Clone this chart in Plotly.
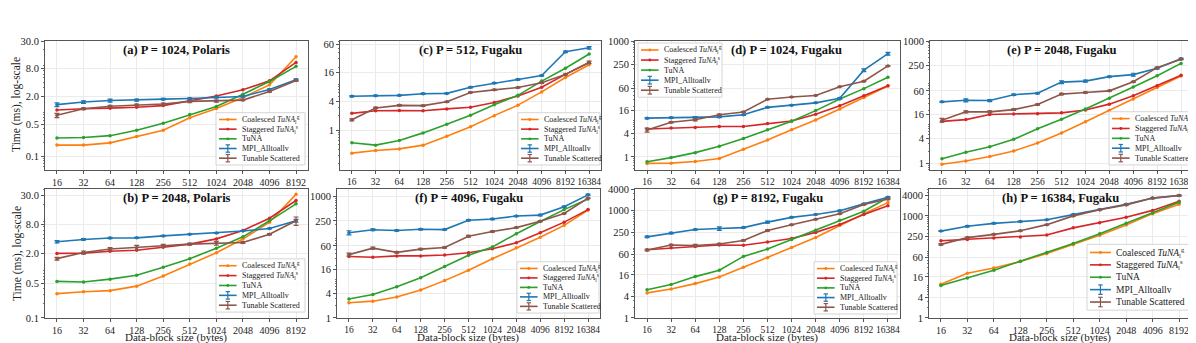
import plotly.graph_objects as go
import math

W, H = 1196, 343

sizes_10 = [16, 32, 64, 128, 256, 512, 1024, 2048, 4096, 8192]
sizes_11 = [16, 32, 64, 128, 256, 512, 1024, 2048, 4096, 8192, 16384]

series_names = [
    "Coalesced <i>TuNA</i><sub>l</sub><sup>g</sup>",
    "Staggered <i>TuNA</i><sub>l</sub><sup>s</sup>",
    "TuNA",
    "MPI_Alltoallv",
    "Tunable Scattered",
]
colors = ["#ff7f0e", "#d62728", "#2ca02c", "#1f77b4", "#8c564b"]

# (a) P = 1024, Polaris
a_coal = [0.175, 0.175, 0.196, 0.27, 0.365, 0.68, 1.08, 1.87, 3.5, 14.2]
a_stag = [1.0, 1.07, 1.1, 1.15, 1.25, 1.6, 2.02, 2.74, 4.27, 10.7]
a_tuna = [0.25, 0.256, 0.28, 0.365, 0.52, 0.8, 1.19, 2.19, 4.14, 8.8]
a_mpi = [1.31, 1.49, 1.61, 1.64, 1.72, 1.78, 1.9, 1.97, 2.78, 4.5]
a_tun = [0.77, 1.07, 1.21, 1.29, 1.35, 1.54, 1.57, 1.64, 2.53, 4.35]
a_mpi_err = [0.12, 0.1, 0.12, 0.08, 0.07, 0.06, 0.06, 0.05, 0.1, 0.2]
a_tun_err = [0.08, 0.05, 0.06, 0.05, 0.06, 0.1, 0.08, 0.05, 0.08, 0.15]

# (b) P = 2048, Polaris
b_coal = [0.31, 0.34, 0.357, 0.44, 0.71, 1.24, 2.09, 3.98, 8.7, 32]
b_stag = [2.03, 2.06, 2.25, 2.35, 2.7, 3.13, 4.0, 5.9, 10.5, 24]
b_tuna = [0.55, 0.535, 0.61, 0.73, 1.06, 1.59, 2.57, 4.4, 9.3, 20.5]
b_mpi = [3.5, 3.9, 4.17, 4.2, 4.6, 4.98, 5.28, 5.77, 6.5, 9.3]
b_tun = [1.59, 2.12, 2.5, 2.65, 2.9, 3.13, 3.27, 3.37, 4.98, 9.3]
b_mpi_err = [0.2, 0.15, 0.12, 0.1, 0.1, 0.1, 0.1, 0.1, 0.15, 0.6]
b_tun_err = [0.1, 0.15, 0.15, 0.3, 0.2, 0.15, 0.3, 0.15, 0.15, 1.8]

# (c) P = 512, Fugaku
c_coal = [0.335, 0.38, 0.41, 0.49, 0.75, 1.18, 2.0, 3.3, 6.2, 12.3, 22.7]
c_stag = [2.23, 2.52, 2.56, 2.52, 2.76, 2.98, 3.76, 5.11, 7.74, 14.3, 25.3]
c_tuna = [0.55, 0.49, 0.61, 0.88, 1.32, 2.03, 3.37, 5.27, 10.4, 19.2, 37.8]
c_mpi = [5.03, 5.19, 5.27, 5.69, 5.78, 7.74, 9.46, 11.2, 13.5, 42, 50.7]
c_tun = [1.64, 2.89, 3.27, 3.22, 3.87, 6.05, 6.85, 7.63, 9.6, 14.3, 25.3]
c_mpi_err = [0.15, 0.15, 0.15, 0.15, 0.15, 0.2, 0.25, 0.3, 0.4, 1.5, 3]
c_tun_err = [0.08, 0.1, 0.1, 0.1, 0.1, 0.15, 0.15, 0.2, 0.3, 0.4, 1.5]

# (d) P = 1024, Fugaku
d_coal = [0.68, 0.69, 0.76, 0.91, 1.59, 2.73, 5.06, 9.03, 17.4, 34.8, 68.5]
d_stag = [5.26, 5.57, 5.8, 6.14, 6.14, 7.3, 8.5, 12.8, 21.1, 38.4, 69.8]
d_tuna = [0.75, 0.96, 1.29, 1.89, 3.0, 5.06, 8.36, 15.8, 31.7, 58.6, 115]
d_mpi = [10.1, 10.3, 10.3, 10.9, 12.3, 19.2, 21.9, 25.1, 32.9, 176, 472]
d_tun = [4.96, 7.88, 9.2, 12.3, 14.6, 31, 35.5, 39.1, 65.9, 91.5, 227]
d_mpi_err = [0.4, 0.4, 0.8, 0.5, 0.4, 0.5, 0.5, 0.6, 1.5, 15, 40]
d_tun_err = [0.6, 0.3, 0.6, 0.6, 0.4, 0.6, 0.6, 0.6, 1.0, 2, 6]

# (e) P = 2048, Fugaku
e_coal = [0.95, 1.14, 1.47, 2.0, 3.16, 5.57, 10.4, 19.7, 38, 72, 139]
e_stag = [10.7, 11.8, 15.8, 16.1, 16.4, 17.3, 20.4, 28.3, 45.6, 80.3, 144]
e_tuna = [1.29, 1.86, 2.54, 3.87, 7.07, 12.0, 21.5, 39.4, 74.6, 141, 283]
e_mpi = [32.2, 35.3, 34.7, 48.2, 52.7, 98.2, 104, 134, 150, 215, 366]
e_tun = [11.4, 18.3, 18.3, 20.8, 27.8, 49.9, 54.7, 60, 100, 223, 359]
e_mpi_err = [1, 3, 2, 2, 2, 8, 6, 4, 12, 10, 15]
e_tun_err = [1.2, 1, 1, 1, 1, 2, 2, 2, 3, 5, 6]

# (f) P = 4096, Fugaku
f_coal = [2.36, 2.59, 3.28, 4.9, 8.33, 15.0, 28.9, 53.8, 98, 193, 464]
f_stag = [32.8, 31.6, 34, 34, 35.9, 40.8, 50.9, 72, 127, 232, 473]
f_tuna = [2.94, 3.8, 5.9, 9.8, 18.6, 35.3, 56.7, 120, 240, 473, 865]
f_mpi = [127, 150, 144, 155, 152, 259, 278, 328, 346, 557, 1096]
f_tun = [36.6, 52.7, 41.6, 49.9, 54.7, 104, 136, 170, 245, 380, 913]
f_mpi_err = [15, 8, 6, 6, 5, 10, 10, 10, 15, 20, 40]
f_tun_err = [3, 3, 2, 2, 2, 5, 5, 5, 8, 10, 15]

# (g) P = 8192, Fugaku
g_coal = [5.0, 6.4, 9.1, 14, 26, 48.4, 93.6, 177, 389, 817, 1682]
g_stag = [81, 91.6, 99.6, 110, 108, 133, 167, 247, 413, 784, 1368]
g_tuna = [6.15, 8.55, 14.3, 21.6, 52.5, 84.5, 157, 285, 541, 963, 2340]
g_mpi = [185, 237, 297, 316, 336, 478, 651, 784, 1000, 1549, 2389]
g_tun = [79, 110, 106, 117, 147, 279, 405, 575, 817, 1486, 2111]
g_mpi_err = [8, 12, 10, 35, 10, 30, 20, 20, 30, 50, 80]
g_tun_err = [4, 5, 8, 5, 5, 10, 10, 10, 20, 40, 60]

# (h) P = 16384, Fugaku
h_coal = [9.8, 20.7, 29.4, 45.6, 78.9, 143, 270, 545, 1174, 2218]
h_stag = [186, 203, 226, 242, 276, 447, 635, 922, 1462, 2703]
h_tuna = [9.0, 14.9, 25.2, 46.6, 84.3, 156, 301, 608, 1227, 2531]
h_mpi = [359, 499, 608, 692, 773, 1099, 1528, 2218, 3366, 4010]
h_tun = [146, 231, 288, 366, 556, 1007, 1528, 2124, 3366, 4010]
h_mpi_err = [10, 20, 20, 20, 20, 30, 40, 60, 100, 120]
h_tun_err = [8, 10, 10, 10, 15, 30, 40, 60, 100, 120]

titles = ["(a) P = 1024, Polaris", "(c) P = 512, Fugaku", "(d) P = 1024, Fugaku",
          "(e) P = 2048, Fugaku", "(b) P = 2048, Polaris", "(f) P = 4096, Fugaku",
          "(g) P = 8192, Fugaku", "(h) P = 16384, Fugaku"]

ticks_polaris = [0.1, 0.5, 2, 8, 30]
ticks_polaris_text = ["0.1", "0.5", "2.0", "8.0", "30.0"]
ticks_512 = [1, 4, 16, 60]
ticks_1000 = [1, 4, 16, 60, 250, 1000]
ticks_4000 = [1, 4, 16, 60, 250, 1000, 4000]

panels = [
    dict(x=sizes_10, ys=[a_coal, a_stag, a_tuna, a_mpi, a_tun], errs=[a_mpi_err, a_tun_err],
         box=(37, 29, 300, 162), yr=[-1.29, 1.49], yt=ticks_polaris, ytt=ticks_polaris_text,
         leg=(208, 103, 89, 54, 8), tx=0.5),
    dict(x=sizes_11, ys=[c_coal, c_stag, c_tuna, c_mpi, c_tun], errs=[c_mpi_err, c_tun_err],
         box=(332, 29, 593, 162), yr=[-0.82, 1.845], yt=ticks_512, ytt=None,
         leg=(510, 103, 82, 54, 8), tx=0.5),
    dict(x=sizes_11, ys=[d_coal, d_stag, d_tuna, d_mpi, d_tun], errs=[d_mpi_err, d_tun_err],
         box=(627, 29, 892, 162), yr=[-0.334, 3.0], yt=ticks_1000, ytt=None,
         leg=(630, 31, 84, 56, 8), tx=0.57),
    dict(x=sizes_11, ys=[e_coal, e_stag, e_tuna, e_mpi, e_tun], errs=[e_mpi_err, e_tun_err],
         box=(922, 29, 1185, 162), yr=[-0.16, 3.0], yt=ticks_1000, ytt=None,
         leg=(1101, 102, 82, 55, 8), tx=0.5),
    dict(x=sizes_10, ys=[b_coal, b_stag, b_tuna, b_mpi, b_tun], errs=[b_mpi_err, b_tun_err],
         box=(37, 182, 300, 315), yr=[-1.0, 1.61], yt=ticks_polaris, ytt=ticks_polaris_text,
         leg=(208, 254, 89, 55, 8), tx=0.5),
    dict(x=sizes_11, ys=[f_coal, f_stag, f_tuna, f_mpi, f_tun], errs=[f_mpi_err, f_tun_err],
         box=(329, 182, 592, 315), yr=[0, 3.18], yt=ticks_1000, ytt=None,
         leg=(509, 257, 82, 53, 8), tx=0.5),
    dict(x=sizes_11, ys=[g_coal, g_stag, g_tuna, g_mpi, g_tun], errs=[g_mpi_err, g_tun_err],
         box=(627, 182, 892, 315), yr=[0, 3.602], yt=ticks_4000, ytt=None,
         leg=(806, 257, 83, 54, 8), tx=0.5),
    dict(x=sizes_10, ys=[h_coal, h_stag, h_tuna, h_mpi, h_tun], errs=[h_mpi_err, h_tun_err],
         box=(921, 182, 1183, 315), yr=[0, 3.79], yt=ticks_4000, ytt=None,
         leg=(1079, 239, 104, 68, 9.5), tx=0.5),
]

FONT = "Liberation Serif"


def px(x):
    return x / W


def py(y):
    return 1 - y / H


fig = go.Figure()
layout = dict(width=W, height=H, margin=dict(l=0, r=0, t=0, b=0),
              paper_bgcolor="white", plot_bgcolor="white", showlegend=False,
              font=dict(family=FONT, size=10.5, color="#222"))
shapes = []
annotations = []

for i, p in enumerate(panels):
    k = "" if i == 0 else str(i + 1)
    x0, y0, x1, y1 = p["box"]
    lo = math.log10(p["x"][0])
    hi = math.log10(p["x"][-1])
    pad = 0.05 * (hi - lo)
    xfs = 9.5 if len(p["x"]) == 11 else 10
    minor = [m * 10 ** e for e in range(-2, 5) for m in range(2, 10)]
    layout["xaxis" + k] = dict(
        domain=[px(x0), px(x1)], anchor="y" + k, type="log",
        range=[lo - pad, hi + pad], tickvals=p["x"], ticktext=[str(v) for v in p["x"]],
        tickangle=0, showgrid=True, gridcolor="#ebebeb", gridwidth=1, zeroline=False,
        showline=True, linecolor="#555", linewidth=1, mirror=True,
        ticks="outside", ticklen=3, tickcolor="#555", tickfont=dict(size=xfs),
    )
    layout["yaxis" + k] = dict(
        domain=[py(y1), py(y0)], anchor="x" + k, type="log", range=p["yr"],
        tickvals=p["yt"], ticktext=p["ytt"] if p["ytt"] else [str(v) for v in p["yt"]],
        showgrid=True, gridcolor="#ebebeb", gridwidth=1, zeroline=False,
        showline=True, linecolor="#555", linewidth=1, mirror=True,
        ticks="outside", ticklen=3, tickcolor="#555", tickfont=dict(size=10.5),
        minor=dict(tickvals=minor, ticks="outside", ticklen=1.5, tickcolor="#777", showgrid=False),
    )
    for j, ys in enumerate(p["ys"]):
        tr = dict(x=p["x"], y=ys, mode="lines+markers", name=series_names[j],
                  line=dict(color=colors[j], width=1.6), marker=dict(size=3.5, color=colors[j]),
                  xaxis="x" + k, yaxis="y" + k)
        if j >= 3:
            tr["error_y"] = dict(type="data", array=p["errs"][j - 3], color=colors[j],
                                 thickness=1.2, width=2.5)
        fig.add_trace(go.Scatter(**tr))

    # panel title
    annotations.append(dict(
        text="<b>%s</b>" % titles[i], xref="x%s domain" % k, yref="y%s domain" % k,
        x=p["tx"], y=0.93, xanchor="center", yanchor="middle", showarrow=False,
        font=dict(size=12.5, family=FONT, color="#111")))

    # legend box drawn as shapes + text
    lx, ly, lw, lh, fs = p["leg"]
    shapes.append(dict(type="rect", xref="paper", yref="paper",
                       x0=px(lx), x1=px(lx + lw), y0=py(ly + lh), y1=py(ly),
                       line=dict(color="#d5d5d5", width=1), fillcolor="rgba(255,255,255,0.85)",
                       layer="above"))
    rowh = (lh - 4) / 5.0
    hl = 2.2 * fs
    for j in range(5):
        cy = ly + 2 + (j + 0.5) * rowh
        ix0, ix1 = lx + 3, lx + 3 + hl
        shapes.append(dict(type="line", xref="paper", yref="paper",
                           x0=px(ix0), x1=px(ix1), y0=py(cy), y1=py(cy),
                           line=dict(color=colors[j], width=1.6), layer="above"))
        mx = (ix0 + ix1) / 2
        if j < 3:
            shapes.append(dict(type="circle", xref="paper", yref="paper",
                               x0=px(mx - 1.5), x1=px(mx + 1.5), y0=py(cy + 1.5), y1=py(cy - 1.5),
                               line=dict(color=colors[j], width=0), fillcolor=colors[j],
                               layer="above"))
        else:
            eh = rowh * 0.38
            shapes.append(dict(type="line", xref="paper", yref="paper",
                               x0=px(mx), x1=px(mx), y0=py(cy - eh), y1=py(cy + eh),
                               line=dict(color=colors[j], width=1.2), layer="above"))
            for s in (-1, 1):
                shapes.append(dict(type="line", xref="paper", yref="paper",
                                   x0=px(mx - 2.2), x1=px(mx + 2.2),
                                   y0=py(cy + s * eh), y1=py(cy + s * eh),
                                   line=dict(color=colors[j], width=1.2), layer="above"))
        annotations.append(dict(
            text=series_names[j], xref="paper", yref="paper", x=px(ix1 + 3), y=py(cy),
            xanchor="left", yanchor="middle", showarrow=False,
            font=dict(size=fs, family=FONT, color="#222")))

# axis titles
for yy in (95, 249):
    annotations.append(dict(text="Time (ms), log-scale", xref="paper", yref="paper",
                            x=px(9), y=py(yy), textangle=-90, showarrow=False,
                            xanchor="center", yanchor="middle",
                            font=dict(size=11.5, family=FONT, color="#222")))
for xc in (168, 460, 759, 1052):
    annotations.append(dict(text="Data-block size (bytes)", xref="paper", yref="paper",
                            x=px(xc), y=0, showarrow=False,
                            xanchor="center", yanchor="bottom", yshift=-1,
                            font=dict(size=11, family=FONT, color="#222")))

layout["shapes"] = shapes
layout["annotations"] = annotations
fig.update_layout(**layout)
fig.write_html("out.html")
